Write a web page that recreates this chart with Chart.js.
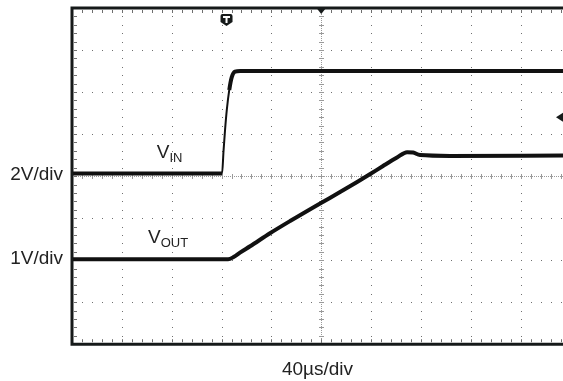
<!DOCTYPE html>
<html>
<head>
<meta charset="utf-8">
<script src="https://cdn.jsdelivr.net/npm/chart.js@4.4.1/dist/chart.umd.min.js"></script>
<style>
  html, body { margin: 0; padding: 0; background: #fff; }
  #wrap { width: 563px; height: 381px; }
</style>
</head>
<body>
<div id="wrap"><canvas id="scope"></canvas></div>
<script>
// Time in microseconds (40 us per division), volts per channel
const vinTime  = [0, 60, 120.4, 121.6, 122.8, 124.2, 126.2, 128.2, 130.8, 135, 200, 300, 394];
const vinVolts = [0.12, 0.12, 0.12, 1.2, 2.19, 3.14, 4.1, 4.71, 4.97, 5.0, 5.0, 5.0, 5.0];

const voutTime  = [0, 60, 125.2, 130.0, 134.8, 142.9, 158.9, 175.0, 199.8, 215.1, 228.8, 239.3, 249.6, 260.8, 268.9, 273.7, 279.3, 303.4, 394];
const voutVolts = [0.02, 0.02, 0.02, 0.08, 0.18, 0.33, 0.64, 0.93, 1.36, 1.62, 1.86, 2.05, 2.24, 2.44, 2.57, 2.56, 2.5, 2.48, 2.49];

const usPerDiv = 40;
const vinPerDiv = 2;     // channel 1
const voutPerDiv = 1;    // channel 2
const trigTime = 124;
const trigLevel = 2.8;

const FONT = "'Liberation Sans', Arial, Helvetica, sans-serif";
const INK = '#161a1a';

function toPoints(xs, ys) {
  return xs.map((t, i) => ({ x: t, y: ys[i] }));
}

// fast edges show up as a thin line, flat parts as a thick noisy band
function traceWidth(ctx) {
  const dt = ctx.p1.parsed.x - ctx.p0.parsed.x;
  const dv = Math.abs(ctx.p1.parsed.y - ctx.p0.parsed.y);
  return dv / dt > 0.4 ? 2 : 4;
}

// oscilloscope graticule: dotted majors, ticked centre lines and frame
const graticule = {
  id: 'graticule',
  beforeDatasetsDraw(chart) {
    const { ctx, chartArea: a, scales: { x, yIn } } = chart;
    const px = t => x.getPixelForValue(t);
    const py = v => yIn.getPixelForValue(v);
    const minorT = usPerDiv / 5;
    const minorV = vinPerDiv / 5;
    const tCenter = usPerDiv * 5;
    ctx.save();
    ctx.fillStyle = '#707070';
    const dot = (X, Y) => ctx.fillRect(Math.round(X), Math.round(Y), 1, 1);

    // horizontal majors
    for (let v = -3 * vinPerDiv; v <= 3 * vinPerDiv; v += vinPerDiv) {
      if (v === 0) continue;
      for (let t = minorT; t < x.max; t += minorT) dot(px(t), py(v));
    }
    // vertical majors
    for (let t = usPerDiv; t < x.max; t += usPerDiv) {
      if (t === tCenter) continue;
      for (let v = yIn.min + minorV; v < yIn.max; v += minorV) dot(px(t), py(v));
    }
    // centre lines with ticks
    ctx.fillStyle = '#9a9a9a';
    const cx = Math.round(px(tCenter)), cy = Math.round(py(0));
    for (let Y = a.top; Y < a.bottom; Y += 2) ctx.fillRect(cx, Y, 1, 1);
    for (let X = a.left; X < a.right; X += 2) ctx.fillRect(X, cy, 1, 1);
    for (let v = yIn.min + minorV; v < yIn.max; v += minorV) ctx.fillRect(cx - 2, Math.round(py(v)), 5, 1);
    for (let t = minorT; t < x.max; t += minorT) ctx.fillRect(Math.round(px(t)), cy - 2, 1, 5);

    // ticks along the frame
    ctx.fillStyle = '#6e6e6e';
    for (let v = yIn.min + minorV; v < yIn.max; v += minorV) ctx.fillRect(a.left + 2, Math.round(py(v)), 3, 1);
    for (let t = minorT; t < x.max; t += minorT) {
      ctx.fillRect(Math.round(px(t)), a.top + 2, 1, 3);
      ctx.fillRect(Math.round(px(t)), a.bottom - 5, 1, 3);
    }
    ctx.restore();
  },
  afterDatasetsDraw(chart) {
    const { ctx, chartArea: a, scales: { x, yIn, yOut } } = chart;
    ctx.save();
    // frame
    ctx.strokeStyle = INK;
    ctx.lineWidth = 3;
    ctx.beginPath();
    ctx.moveTo(a.right + 2, a.top);
    ctx.lineTo(a.left, a.top);
    ctx.lineTo(a.left, a.bottom);
    ctx.lineTo(a.right + 2, a.bottom);
    ctx.stroke();

    ctx.fillStyle = INK;
    // time reference marker
    const cx = x.getPixelForValue(usPerDiv * 5);
    ctx.beginPath();
    ctx.moveTo(cx - 4, a.top + 1);
    ctx.lineTo(cx + 4, a.top + 1);
    ctx.lineTo(cx, a.top + 6);
    ctx.closePath();
    ctx.fill();

    // trigger position badge
    const tx = x.getPixelForValue(trigTime);
    const ty = a.top + 6;
    ctx.beginPath();
    ctx.moveTo(tx - 6, ty + 2);
    ctx.quadraticCurveTo(tx - 6, ty, tx - 4, ty);
    ctx.lineTo(tx + 4, ty);
    ctx.quadraticCurveTo(tx + 6, ty, tx + 6, ty + 2);
    ctx.lineTo(tx + 6, ty + 8);
    ctx.lineTo(tx, ty + 12);
    ctx.lineTo(tx - 6, ty + 8);
    ctx.closePath();
    ctx.fill();
    ctx.fillStyle = '#fff';
    ctx.fillRect(tx - 3.5, ty + 2, 7, 2);
    ctx.fillRect(tx - 1, ty + 2, 2, 7);

    // trigger level marker
    ctx.fillStyle = INK;
    const ly = yIn.getPixelForValue(trigLevel);
    ctx.beginPath();
    ctx.moveTo(a.right - 7, ly);
    ctx.lineTo(a.right, ly - 4.5);
    ctx.lineTo(a.right, ly + 4.5);
    ctx.closePath();
    ctx.fill();

    // channel scale labels at each ground level
    ctx.fillStyle = '#222';
    ctx.font = '19px ' + FONT;
    ctx.textAlign = 'right';
    ctx.textBaseline = 'middle';
    ctx.fillText(vinPerDiv + 'V/div', a.left - 9, yIn.getPixelForValue(0) - 1);
    ctx.fillText(voutPerDiv + 'V/div', a.left - 9, yOut.getPixelForValue(0) - 1);

    // trace names
    ctx.textAlign = 'left';
    ctx.textBaseline = 'alphabetic';
    const name = (t, v, axis, sub) => {
      const X = x.getPixelForValue(t);
      const Y = axis.getPixelForValue(v);
      ctx.font = '19px ' + FONT;
      ctx.fillText('V', X, Y);
      const w = ctx.measureText('V').width;
      ctx.font = '13px ' + FONT;
      ctx.fillText(sub, X + w, Y + 4);
    };
    name(68, 0.86, yIn, 'IN');
    name(61, 0.40, yOut, 'OUT');
    ctx.restore();
  }
};

new Chart(document.getElementById('scope'), {
  type: 'line',
  data: {
    datasets: [
      {
        label: 'VIN',
        data: toPoints(vinTime, vinVolts),
        yAxisID: 'yIn',
        borderColor: '#111',
        borderWidth: 4,
        segment: { borderWidth: traceWidth },
        cubicInterpolationMode: 'monotone'
      },
      {
        label: 'VOUT',
        data: toPoints(voutTime, voutVolts),
        yAxisID: 'yOut',
        borderColor: '#111',
        borderWidth: 4,
        cubicInterpolationMode: 'monotone'
      }
    ]
  },
  options: {
    responsive: true,
    maintainAspectRatio: false,
    animation: false,
    layout: { padding: { left: 72, top: 8, right: 0, bottom: 0 } },
    elements: { point: { radius: 0 } },
    plugins: { legend: { display: false }, tooltip: { enabled: false } },
    scales: {
      x: {
        type: 'linear',
        min: 0,
        max: 394,
        grid: { display: false, drawTicks: false },
        border: { display: false },
        ticks: { display: false },
        title: {
          display: true,
          text: usPerDiv + 'µs/div',
          color: '#222',
          font: { family: FONT, size: 19 },
          padding: { top: 14, bottom: 0 }
        }
      },
      yIn: { display: false, min: -4 * vinPerDiv, max: 4 * vinPerDiv },
      yOut: { display: false, min: -2 * voutPerDiv, max: 6 * voutPerDiv }
    }
  },
  plugins: [graticule]
});
</script>
</body>
</html>
